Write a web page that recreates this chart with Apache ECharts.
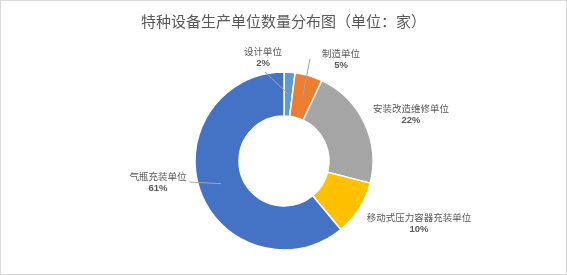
<!DOCTYPE html>
<html>
<head>
<meta charset="utf-8">
<script src="https://cdn.jsdelivr.net/npm/echarts@6/dist/echarts.min.js"></script>
<style>
  html, body { margin: 0; padding: 0; background: #fff; }
  #pie { width: 567px; height: 275px; box-sizing: border-box; border: 1px solid #d9d9d9; }
</style>
</head>
<body>
<div id="pie"></div>
<script>
const categories = ['设计单位', '制造单位', '安装改造维修单位', '移动式压力容器充装单位', '气瓶充装单位']
const shares = [2, 5, 22, 10, 61]
const colors = ['#5b9bd5', '#ed7d31', '#a5a5a5', '#ffc000', '#4472c4']

// label block centres, as placed in the reference, and where the leader meets the label
const labelPos = [[262, 56], [340, 58], [410, 113], [418, 222], [157, 181]]
const leaderSide = ['bottom', 'left', null, null, 'right']
const leaderGap = [4, 12, 0, 0, 3]
const cx = 283, cy = 160, rIn = 45, rOut = 89

const total = shares.reduce((a, b) => a + b, 0)
const midAngles = []
let acc = 0
shares.forEach(v => {
    midAngles.push((acc + v / 2) / total * Math.PI * 2)
    acc += v
})

const leaders = []

let myChart = echarts.init(document.getElementById('pie'))
myChart.setOption({
    animation: false,
    title: {
        text: '特种设备生产单位数量分布图（单位：家）',
        left: 'center',
        top: 8,
        textStyle: {
            fontFamily: 'Noto Sans CJK SC',
            fontSize: 15,
            fontWeight: 'normal',
            color: '#595959'
        }
    },
    series: [
        {
            type: 'pie',
            center: [cx, cy],
            radius: [rIn, rOut],
            startAngle: 90,
            clockwise: true,
            percentPrecision: 0,
            itemStyle: { borderColor: '#fff', borderWidth: 1.5 },
            label: {
                formatter: '{n|{b}}\n{p|{d}%}',
                align: 'center',
                rich: {
                    n: { fontFamily: 'Noto Sans CJK SC', fontSize: 9.5, color: '#595959', lineHeight: 12, align: 'center' },
                    p: { fontFamily: 'Liberation Sans', fontSize: 9.5, fontWeight: 'bold', color: '#595959', lineHeight: 12, align: 'center' }
                }
            },
            labelLine: { show: false },
            labelLayout: function (p) {
                const i = p.dataIndex
                const [x, y] = labelPos[i]
                const w = p.labelRect.width, h = p.labelRect.height
                const rm = (rIn + rOut) / 2
                const ax = cx + rm * Math.sin(midAngles[i])
                const ay = cy - rm * Math.cos(midAngles[i])
                const g = leaderGap[i]
                let end = null
                if (leaderSide[i] === 'bottom') end = [x + 2, y + h / 2 + g]
                else if (leaderSide[i] === 'left') end = [x - w / 2 - g, y]
                else if (leaderSide[i] === 'right') end = [x + w / 2 + g, y]
                leaders[i] = end ? [[ax, ay], end] : null
                return { x: x, y: y, align: 'center', verticalAlign: 'middle' }
            },
            data: categories.map((name, i) => ({
                name: name,
                value: shares[i],
                itemStyle: { color: colors[i] }
            }))
        }
    ]
})

// leader lines drawn over the ring, like the spreadsheet does
myChart.setOption({
    graphic: leaders.filter(Boolean).map(pts => ({
        type: 'polyline',
        z: 100,
        silent: true,
        shape: { points: pts },
        style: { stroke: '#a6a6a6', lineWidth: 1, fill: null }
    }))
})

window.addEventListener('resize', function () {
    myChart.resize()
})
</script>
</body>
</html>
